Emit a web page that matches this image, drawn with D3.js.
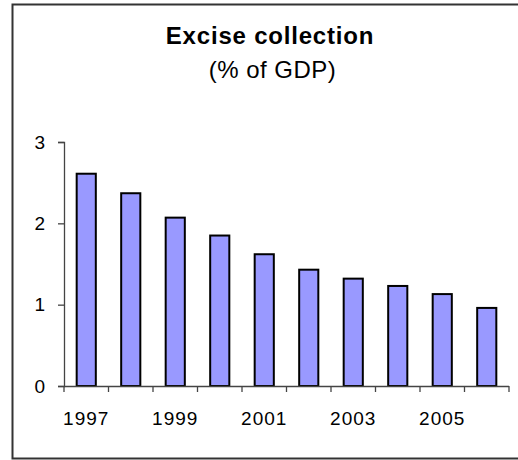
<!DOCTYPE html>
<html>
<head>
<meta charset="utf-8">
<script src="https://cdn.jsdelivr.net/npm/d3@7"></script>
<style>
  body { margin: 0; background: #fff; }
  text { font-family: Arial, "Liberation Sans", sans-serif; fill: #000; }
</style>
</head>
<body>
<div id="chart"></div>
<script>
// Data
var years = ["1997", "1998", "1999", "2000", "2001", "2002", "2003", "2004", "2005", "2006"];
var excise = [2.61, 2.37, 2.07, 1.85, 1.62, 1.43, 1.32, 1.23, 1.13, 0.96];
var yTicks = [0, 1, 2, 3];

var width = 518, height = 460;

var svg = d3.select("#chart")
    .append("svg")
    .attr("width", width)
    .attr("height", height);

// Outer frame
svg.append("rect")
    .attr("x", 12.5)
    .attr("y", 4.5)
    .attr("width", 520)
    .attr("height", 454)
    .attr("fill", "#fff")
    .attr("stroke", "#333")
    .attr("stroke-width", 2);

// Titles
svg.append("text")
    .attr("x", 270)
    .attr("y", 43.5)
    .attr("text-anchor", "middle")
    .style("font-size", "24px")
    .style("font-weight", "bold")
    .style("letter-spacing", "0.8px")
    .text("Excise collection");

svg.append("text")
    .attr("x", 272.5)
    .attr("y", 78)
    .attr("text-anchor", "middle")
    .style("font-size", "24px")
    .style("letter-spacing", "0.5px")
    .text("(% of GDP)");

// Scales
var x = d3.scaleBand()
    .domain(years)
    .range([64, 509])
    .paddingInner(0.57)
    .paddingOuter(0.285);

var y = d3.scaleLinear()
    .domain([0, 3])
    .range([386, 142]);

// Bars
svg.selectAll("rect.bar")
    .data(excise)
    .enter()
    .append("rect")
    .attr("class", "bar")
    .attr("x", function (d, i) { return x(years[i]); })
    .attr("y", function (d) { return y(d); })
    .attr("width", x.bandwidth())
    .attr("height", function (d) { return y(0) - y(d); })
    .attr("fill", "#9999ff")
    .attr("stroke", "#000")
    .attr("stroke-width", 2);

// Y axis
var yAxis = svg.append("g")
    .attr("transform", "translate(64,0)")
    .call(d3.axisLeft(y).tickValues(yTicks).tickSize(6).tickPadding(13).tickFormat(d3.format("d")));
yAxis.select(".domain").attr("stroke", "#444").attr("stroke-width", 1.3);
yAxis.selectAll(".tick line").attr("stroke", "#444").attr("stroke-width", 1.3);
yAxis.selectAll(".tick text")
    .style("font-size", "19px")
    .style("font-family", "Arial, 'Liberation Sans', sans-serif")
    .attr("fill", "#000");

// X axis: ticks between categories
var step = x.step();
var boundaries = d3.range(years.length + 1).map(function (i) { return 64 + i * step; });
var xAxis = svg.append("g");
xAxis.append("line")
    .attr("x1", 64).attr("x2", 509)
    .attr("y1", 386.5).attr("y2", 386.5)
    .attr("stroke", "#444").attr("stroke-width", 1.3);
xAxis.selectAll("line.tk")
    .data(boundaries)
    .enter()
    .append("line")
    .attr("class", "tk")
    .attr("x1", function (d) { return d; })
    .attr("x2", function (d) { return d; })
    .attr("y1", 386)
    .attr("y2", 392)
    .attr("stroke", "#444")
    .attr("stroke-width", 1.3);
xAxis.selectAll("text")
    .data(years.filter(function (d, i) { return i % 2 === 0; }))
    .enter()
    .append("text")
    .attr("x", function (d) { return x(d) + x.bandwidth() / 2; })
    .attr("y", 425)
    .attr("text-anchor", "middle")
    .style("font-size", "19px")
    .style("letter-spacing", "1px")
    .text(function (d) { return d; });
</script>
</body>
</html>
